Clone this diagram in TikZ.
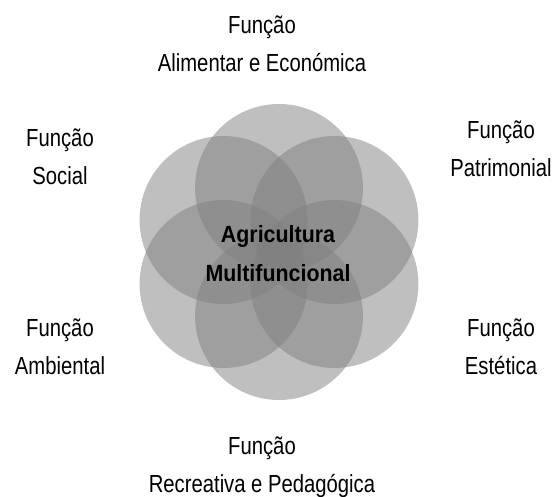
\documentclass[tikz,border=0pt]{standalone}
\usepackage{fontspec}
\setmainfont{Liberation Sans}[FakeStretch=0.82]
\newfontfamily\centrefont{Liberation Sans}[FakeStretch=0.91,BoldFont={Liberation Sans Bold},BoldFeatures={FakeStretch=0.91}]
\usepackage{tikz}
\usetikzlibrary{positioning}
\definecolor{petalgray}{gray}{0.5}

\begin{document}
\begin{tikzpicture}[x=1pt,y=1pt,
	petal/.style={circle, minimum size=168pt, inner sep=0pt, fill=petalgray, fill opacity=0.5},
	func/.style={align=center, anchor=base, inner sep=0pt, font=\fontsize{24.7}{38}\selectfont}]
			\useasboundingbox (-279,252) rectangle (278,-245);
			\node[petal] (C1) at (90:64) {};
			\node[petal] (C2) at (30:64) {};
			\node[petal] (C3) at (-30:64) {};
			\node[petal] (C4) at (-90:64) {};
			\node[petal] (C5) at (-150:64) {};
			\node[petal] (C6) at (150:64) {};
			
			\node[align=center, anchor=base, inner sep=0pt, font=\centrefont\bfseries\fontsize{23.5}{39}\selectfont] (AM) at (-1,-30) {Agricultura\\Multifuncional};
			
			\node[func] (F1) at (-17,180) {Função\\Alimentar e Económica};
			\node[func] (F2) at (222,75) {Função\\Patrimonial};
			\node[func] (F3) at (222,-123) {Função\\Estética};
			\node[func] (F4) at (-17,-241) {Função\\Recreativa e Pedagógica};
			\node[func] (F5) at (-219,-123) {Função\\Ambiental};
			\node[func] (F6) at (-219,67) {Função\\Social};
\end{tikzpicture}
\end{document}
